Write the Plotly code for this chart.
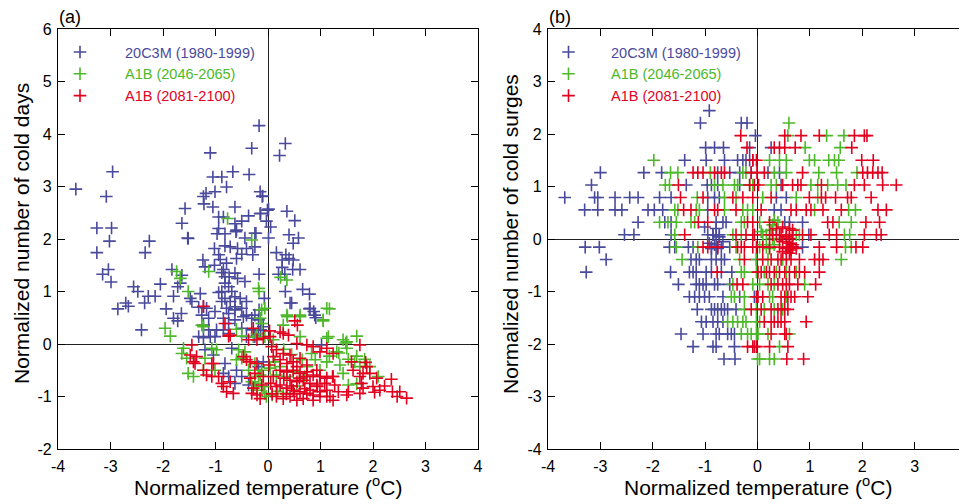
import plotly.graph_objects as go

BLUE = "#4A4A9C"
GREEN = "#4DB82A"
RED = "#E2001F"
NAMES = ["20C3M (1980-1999)", "A1B (2046-2065)", "A1B (2081-2100)"]

# ---------------- Panel (a): cold days vs temperature ----------------
a_blue = [
    (-0.17, 4.16), (-0.31, 3.73), (-1.10, 3.64), (-2.96, 3.28), (-0.67, 3.28), (-0.36, 3.23), (-1.05, 3.18),
    (-0.88, 3.18), (-0.79, 2.99), (-3.66, 2.95), (-3.08, 2.81), (-1.18, 2.87), (-1.23, 2.81), (-1.01, 2.90),
    (-1.22, 2.67), (-0.15, 2.90), (-0.11, 2.81), (-1.58, 2.58), (-1.05, 2.61), (-0.63, 2.61), (-0.94, 2.42),
    (-0.85, 2.42), (-0.37, 2.44), (-0.15, 2.48), (-0.50, 2.34), (-0.63, 2.29), (-1.64, 2.30), (-0.01, 2.55),
    (-0.03, 2.34), (-3.26, 2.21), (-2.98, 2.21), (-0.94, 2.20), (-0.97, 2.10), (-0.82, 2.10), (-0.60, 2.17),
    (-0.23, 2.11), (-1.53, 2.02), (-0.44, 2.02),
    (0.33, 3.82), (0.22, 3.59), (-0.10, 2.82), (0.36, 2.53), (0.01, 2.57), (-0.14, 2.49), (0.05, 2.23),
    (0.51, 2.35), (0.40, 2.08), (0.58, 2.02), (0.01, 2.02), (0.48, 1.92), (0.16, 1.74), (0.34, 1.70),
    (0.40, 1.63), (0.48, 1.60), (0.27, 1.60), (0.27, 1.46), (0.47, 1.42), (0.61, 1.42), (0.20, 1.33),
    (0.32, 1.33), (0.33, 1.00), (0.66, 1.04), (0.79, 0.95), (0.45, 0.78), (0.79, 0.67), (0.87, 0.62),
    (0.91, 0.50), (1.02, -0.02), (0.42, 0.78), (0.80, 0.68), (0.89, 0.55),
    (-3.02, 1.96), (-2.26, 1.96), (-1.52, 2.01), (-3.26, 1.74), (-2.34, 1.74), (-0.61, 2.14), (-0.25, 2.11),
    (-1.02, 1.82), (-0.82, 1.87), (-0.72, 1.85), (-0.58, 1.82), (-0.41, 1.82), (-0.25, 1.85), (-0.94, 1.70),
    (-0.91, 1.61), (-0.50, 1.71), (-0.29, 1.70), (-0.60, 1.63), (-1.24, 1.60), (-1.20, 1.47), (-1.02, 1.50),
    (-0.79, 1.54), (-0.85, 1.42), (-0.63, 1.35), (-0.74, 1.28), (-3.15, 1.33), (-3.04, 1.42), (-2.99, 1.18),
    (-1.83, 1.42), (-1.64, 1.31), (-1.67, 1.16), (-1.72, 1.09), (-0.88, 1.36), (-0.82, 1.28), (-0.58, 1.25),
    (-0.44, 1.19), (-0.17, 1.33),
    (-0.82, 1.16), (-0.75, 1.09), (-0.88, 1.00), (-0.69, 1.00), (-0.63, 0.90), (-0.94, 0.98), (-0.82, 0.87),
    (-0.72, 0.81), (-0.63, 0.71), (-0.53, 0.87), (-0.41, 0.81), (-0.88, 0.81), (-0.79, 0.68), (-0.63, 0.65),
    (-0.50, 0.68), (-0.41, 0.55), (-0.75, 0.58),
    (-2.56, 1.09), (-2.48, 1.00), (-2.05, 1.14), (-1.80, 0.91), (-1.48, 0.87), (-1.29, 0.96), (-1.45, 0.81),
    (-2.28, 0.91), (-2.15, 0.91), (-2.71, 0.78), (-2.66, 0.72), (-2.35, 0.78), (-2.86, 0.67), (-1.94, 0.67),
    (-1.65, 0.58), (-1.80, 0.49), (-1.72, 0.44), (-2.41, 0.27),
    (-1.32, 0.70), (-1.23, 0.71), (-1.17, 0.68), (-1.01, 0.62), (-1.13, 0.49), (-1.23, 0.36), (-1.13, 0.27),
    (-0.98, 0.27), (-1.32, 0.14), (-1.23, 0.12), (-1.10, 0.14), (-1.01, 0.14), (-1.26, 0.55),
    (-0.85, 0.49), (-0.75, 0.39), (-0.63, 0.46), (-0.47, 0.52), (-0.31, 0.49), (-0.18, 0.46), (-0.09, 0.33),
    (-0.50, 0.30), (-0.31, 0.27), (-0.18, 0.27), (-0.85, 0.27), (-0.75, 0.20), (-0.41, 0.14), (-0.25, 0.14),
    (-0.07, 0.87), (-0.17, 0.65), (-0.25, 0.55), (-0.14, 0.27),
    (-1.04, -0.21), (-0.82, -0.37), (-0.75, -0.62), (-0.63, -0.75), (-0.85, -0.56), (-0.60, -0.50),
    (-0.50, -0.62), (-0.37, -0.78), (-0.18, -0.43), (-0.09, -0.34), (-0.69, -0.08), (-1.20, -0.11),
]

a_green = [
    (-0.77, 2.39), (0.24, 1.27), (0.36, 1.22), (1.17, 0.67), (1.05, 0.44), (0.37, 0.52), (0.61, 0.52),
    (1.69, 0.15), (1.12, 0.11), (1.15, 0.14), (1.43, 0.08), (1.48, 0.02), (1.50, -0.08), (1.17, -0.23),
    (1.35, -0.17), (1.37, -0.40), (1.53, -0.29), (1.69, -0.23), (1.65, -0.34), (1.84, -0.29), (1.75, -0.43),
    (1.94, -0.43), (1.53, -0.78), (1.69, -0.76), (2.10, -0.62),
    (-1.74, 1.38), (-1.67, 1.25), (-1.13, 1.38), (-1.96, 0.30), (-1.86, 0.15), (-1.52, 1.00), (-1.26, 0.36),
    (-1.23, 0.33), (-0.60, 0.28), (-0.50, 0.15), (-0.28, 0.14), (-0.18, 1.06), (-0.17, 1.00), (-0.31, 1.98),
    (-0.12, 0.65), (-0.06, 0.68), (-0.15, 0.49), (-0.12, 0.39), (-0.21, 0.19), (-0.06, 0.14),
    (-1.61, -0.08), (-1.64, -0.18), (-1.55, -0.27), (-1.52, -0.56), (-1.42, -0.62), (-1.20, -0.27),
    (-1.07, -0.08), (-0.98, -0.11), (-1.01, -0.50), (-1.23, -0.50),
    (-0.56, -0.11), (-0.44, -0.15), (-0.50, -0.27), (-0.25, -0.37), (-0.12, -0.50), (-0.25, -0.75),
    (-0.12, -0.81), (-0.06, -0.94), (-0.37, -0.50), (-0.18, -0.62), (-0.60, -0.30),
    (1.12, 0.68), (1.05, 0.46), (0.36, 0.55), (0.61, 0.55), (1.31, -0.15), (1.50, 0.04), (1.12, -0.34),
    (0.99, -0.50), (0.83, -0.18), (1.43, -0.56),
    (-0.15, -0.59), (-0.09, -0.81), (-0.03, -1.00), (-0.21, -0.88), (-0.31, -0.72), (0.13, -0.34),
    (0.04, -0.46), (0.23, -0.43), (0.16, -0.59), (0.36, -0.62), (0.48, -0.53), (0.74, -0.43), (0.70, -0.62),
    (0.29, -0.94), (0.08, -0.97), (0.18, -0.90), (0.55, -0.80), (0.65, -0.30), (0.90, -0.30), (0.45, -0.20),
    (0.30, -0.10), (0.10, 0.08), (0.29, 0.36), (0.61, 0.14),
]

a_red = [
    (0.51, 0.44), (0.56, 0.36), (1.75, -0.02), (1.59, -0.34), (1.86, -0.35), (1.88, -0.43), (1.81, -0.56),
    (1.94, -0.56), (2.07, -0.65), (2.35, -0.67), (2.22, -0.80), (2.37, -0.91), (2.64, -1.03), (2.46, -1.00),
    (2.51, -0.91),
    (1.23, -0.62), (1.27, -0.78), (1.18, -1.00), (1.34, -0.91), (1.53, -0.91), (1.50, -0.97), (1.78, -0.75),
    (1.81, -0.84), (2.00, -0.81), (2.03, -0.92), (2.13, -0.88), (1.62, -0.50), (1.75, -0.62), (1.75, -0.94),
    (0.93, -0.50), (0.99, -0.62), (1.08, -0.75), (1.12, -0.88), (0.94, -0.81), (0.74, -0.62), (0.80, -0.88),
    (0.99, -1.00),
    (-1.23, 0.72), (-0.82, 0.39), (-0.75, 0.15), (-0.28, 0.30), (-0.37, 0.08), (-0.21, 0.08), (-0.09, 0.11),
    (-1.45, -0.02), (-1.48, -0.21), (-1.36, -0.24), (-1.39, -0.37), (-1.23, -0.50), (-1.07, -0.37),
    (-1.17, -0.59), (-1.07, -0.62), (-0.94, -0.62), (-0.85, -0.81), (-0.66, -0.94), (-0.79, -0.91),
    (-0.47, -0.24), (-0.34, -0.34), (-0.21, -0.37), (-0.25, -0.56), (-0.09, -0.62), (-0.31, -0.94),
    (-0.21, -0.97), (-0.12, -0.78), (-0.88, -0.75),
    (0.23, 0.23), (0.29, 0.20), (0.39, 0.17), (0.04, 0.14), (0.55, 0.01), (0.74, -0.02), (0.86, -0.05),
    (0.99, -0.15), (1.12, -0.08), (1.24, -0.18),
    (0.16, -0.11), (0.29, -0.18), (0.42, -0.21), (0.10, -0.24), (0.23, -0.30), (0.36, -0.37), (0.48, -0.34),
    (0.61, -0.27), (0.74, -0.40), (0.55, -0.43),
    (0.23, -0.50), (0.36, -0.53), (0.48, -0.50), (0.61, -0.56), (0.74, -0.53), (0.86, -0.59), (0.99, -0.62),
    (1.12, -0.65), (1.24, -0.62), (0.42, -0.69), (0.55, -0.72), (0.67, -0.69), (0.80, -0.75), (0.93, -0.78),
    (0.23, -0.78), (0.36, -0.84), (0.48, -0.88), (0.61, -0.91), (0.74, -0.94), (0.86, -0.97), (0.99, -0.91),
    (0.16, -1.00), (0.29, -1.04), (0.42, -1.00), (0.55, -1.07), (0.67, -1.04), (0.86, -1.07), (1.12, -1.00),
    (1.24, -1.07), (0.10, -0.62), (0.16, -0.81),
    (-1.42, -0.34), (-1.04, -0.37), (-0.72, -0.72), (-0.34, -0.65), (-0.28, -0.84), (-0.15, -1.04),
    (-0.41, -0.30), (-0.72, 0.17), (0.03, 0.25), (0.07, -0.05), (0.02, -0.40), (0.05, -0.75), (0.08, -0.95),
    (0.30, -0.65), (0.45, -0.80), (0.60, -0.65), (0.70, -0.85), (0.50, -0.95), (0.35, -0.95),
]

# ---------------- Panel (b): cold surges vs temperature ----------------
# rows: (normalized number of cold surges, [normalized temperatures])
b_blue_rows = [
    (2.445, [-0.92]),
    (2.21, [-1.09, -0.31, -0.20]),
    (1.97, [-0.04]),
    (1.74, [-0.99, -0.82, -0.65, -0.15, 0.26]),
    (1.50, [-1.39, -0.98, -0.63, -0.38, -0.28, -0.22, -0.15, -0.09]),
    (1.265, [-3.00, -2.17, -1.83, -0.76, -0.53, -0.34, -0.12, 0.20, 0.42]),
    (1.03, [-3.17, -1.36, -0.96, -0.88, -0.76, -0.34, 0.45]),
    (0.79, [-3.68, -3.11, -3.05, -2.72, -2.44, -2.28, -1.87, -1.65, -0.95, -0.82, -0.73, 0.36, 0.55]),
    (0.555, [-3.30, -3.05, -2.72, -2.59, -2.09, -1.97, -1.81, -0.95, 0.32, 0.45]),
    (0.32, [-2.28, -1.77, -1.65, -0.79, -0.66, -0.60, 0.52, 0.61, 0.86]),
    (0.08, [-2.54, -2.36, -1.65, -0.95, -0.85, -0.79, -0.73, 0.98]),
    (-0.155, [-3.29, -3.02, -1.68, -1.58, -1.32, -1.23, -0.88, -0.79, -0.69, -0.53, 0.86]),
    (-0.39, [-2.89, -1.27, -1.17, -1.11, -0.88, -0.79, -0.69, -0.63, -0.02]),
    (-0.63, [-3.27, -1.66, -1.30, -1.23, -1.17, -0.98, -0.88, -0.69, -0.49]),
    (-0.865, [-1.51, -1.17, -1.11, -1.04, -0.98, -0.82, -0.76, -0.53]),
    (-1.10, [-1.30, -1.20, -1.11, -1.01, -0.92, -0.66, -0.34, -0.06]),
    (-1.34, [-1.15, -0.88, -0.82, -0.76, -0.69, -0.63, -0.57, -0.41]),
    (-1.575, [-1.07, -0.98, -0.85, -0.76, -0.66]),
    (-1.81, [-1.46, -1.04, -0.79, -0.73, -0.57, -0.50, -0.44]),
    (-2.05, [-1.23, -0.85, -0.79, -0.44]),
    (-2.285, [-0.64, -0.43]),
]
b_blue_extra = [(-1.01, 0.23), (-0.79, 0.20), (-0.85, 0.08), (-0.73, 0.04), (-0.92, -0.08), (-0.82, -0.11),
                (-0.66, -0.05), (-0.76, -0.18), (-0.88, -0.18)]

b_green_rows = [
    (2.21, [0.60]),
    (1.97, [0.58, 1.32, 1.65]),
    (1.74, [0.91, 1.58]),
    (1.50, [-1.98, 0.23, 0.42, 0.55, 0.99, 1.09, 1.36, 1.47, 1.55]),
    (1.265, [-1.66, -1.52, -0.90, -0.28, -0.22, 0.32, 0.55, 1.17, 1.51, 1.90]),
    (1.03, [-1.76, -1.68, -0.82, -0.66, -0.44, -0.38, -0.15, -0.09, 0.26, 0.36, 1.02, 1.15, 1.34, 1.53, 1.69]),
    (0.79, [-1.15, -0.63, -0.41, 0.10, 0.74, 1.15]),
    (0.555, [-1.58, -1.52, -1.17, -1.11, -0.63, -0.28, -0.19, -0.09, 1.09, 1.74, 1.87]),
    (0.32, [-1.87, -1.71, -1.55, -1.27, -1.20, -0.31, -0.25, 0.04, 0.39, 1.56, 1.79]),
    (0.08, [-1.58, -0.47, -0.31, 0.10, 0.74, 0.80, 1.66, 1.76]),
    (-0.155, [-1.55, -1.14, -0.41, 0.04, 0.17, 1.68, 1.79]),
    (-0.39, [-1.44, -0.34, -0.02, 0.20, 0.48, 1.60]),
    (-0.63, [-0.31, -0.25, -0.02, 0.13, 0.36, 0.55, 0.74]),
    (-0.865, [-0.47, -0.09, 0.04, 0.20, 0.32, 0.90]),
    (-1.10, [-0.50, -0.44, -0.25, 0.23, 0.29, 0.55]),
    (-1.34, [-0.25, -0.02, 0.13, 0.32, 0.48]),
    (-1.575, [-0.57, -0.47, -0.38, -0.28, -0.22, -0.02, 0.04]),
    (-1.81, [-0.31, -0.19, -0.12, -0.02, 0.01, 0.20, 0.61]),
    (-2.05, [0.42]),
    (-2.285, [0.00, 0.04, 0.23, 0.32]),
]
b_green_extra = [(0.07, 0.14), (0.17, 0.08), (0.26, 0.17), (0.10, -0.11), (0.23, -0.18), (0.32, -0.11),
                 (0.29, 0.01), (0.32, 0.36), (0.29, 0.27)]

b_red_rows = [
    (1.97, [-0.32, 0.52, 0.83, 1.18, 1.85, 2.04, 2.09]),
    (1.74, [-0.20, 0.32, 0.42, 0.52, 0.72, 1.80]),
    (1.50, [-0.09, -0.02, 1.99, 2.21]),
    (1.265, [-1.23, -1.14, -1.04, -0.82, -0.69, -0.63, -0.12, -0.01, 0.13, 0.86, 2.01, 2.10, 2.20, 2.30, 2.38]),
    (1.03, [-1.51, -0.15, -0.06, 0.02, 0.48, 0.67, 0.77, 0.83, 1.22, 1.85, 2.04, 2.39, 2.65]),
    (0.79, [-1.47, -1.04, -0.47, -0.28, -0.09, 0.26, 0.99, 1.22, 1.30, 1.49, 1.72, 1.79, 2.17]),
    (0.555, [-1.41, -1.27, -0.82, -0.76, -0.41, 0.07, 0.64, 0.74, 0.93, 1.02, 1.25, 1.60, 2.30, 2.46]),
    (0.32, [-1.13, -0.95, -0.19, -0.09, 0.23, 1.34, 1.44, 2.07, 2.33]),
    (0.08, [-1.39, -0.41, -0.22, -0.09, -0.06, 0.23, 0.29, 0.36, 0.45, 0.55, 0.67, 0.86, 1.02, 1.37, 1.51,
            2.04, 2.27, 2.36]),
    (-0.155, [-1.04, -0.95, -0.76, -0.38, -0.31, -0.25, -0.09, -0.02, 0.10, 0.23, 0.42, 0.58, 0.64, 0.67,
              1.18, 1.51, 1.88, 2.01]),
    (-0.39, [-0.25, 0.10, 0.26, 0.39, 0.45, 0.55, 0.64, 0.80, 1.09, 1.18, 1.25]),
    (-0.63, [-0.77, 0.01, 0.07, 0.17, 0.23, 0.32, 0.42, 0.52, 0.61, 0.71, 0.80, 0.90, 1.18]),
    (-0.865, [-0.39, -0.28, 0.26, 0.39, 0.48, 0.55, 0.61, 0.77, 1.11]),
    (-1.10, [-0.02, 0.01, 0.10, 0.45, 0.52, 0.58, 0.64, 0.71, 0.96]),
    (-1.34, [-0.12, 0.07, 0.26, 0.39, 0.45, 0.52, 0.58]),
    (-1.575, [0.13, 0.26, 0.32, 0.39, 0.45, 0.52, 0.93]),
    (-1.81, [0.26, 0.52, 0.55]),
    (-2.05, [-0.19, -0.09, -0.06, -0.02, 0.23, 0.58]),
    (-2.285, [0.56, 0.88]),
]
b_red_extra = [(0.36, 0.20), (0.48, 0.23), (0.61, 0.20), (0.67, 0.17), (0.42, 0.08), (0.55, 0.04), (0.61, 0.01),
               (0.67, 0.08), (0.48, -0.05), (0.61, -0.08), (0.67, -0.11), (0.55, -0.18), (0.64, -0.21),
               (0.74, -0.18), (0.48, -0.24), (0.61, -0.27)]

A_XTICKS = [-4, -3, -2, -1, 0, 1, 2, 3, 4]
A_YTICKS = [-2, -1, 0, 1, 2, 3, 4, 5, 6]
B_YTICKS = [-4, -3, -2, -1, 0, 1, 2, 3, 4]


def flat_rows(rows, extra):
    xs, ys = [], []
    for yv, xl in rows:
        for xv in xl:
            xs.append(xv)
            ys.append(yv)
    for xv, yv in extra:
        xs.append(xv)
        ys.append(yv)
    return xs, ys


FONT = "Liberation Sans, Arial, sans-serif"
fig = go.Figure()


def label(name, color):
    return "<span style='color:%s'>%s</span>" % (color, name)


def add(xs, ys, color, name, xa, ya, leg):
    fig.add_trace(go.Scatter(
        x=xs, y=ys, mode="markers", xaxis=xa, yaxis=ya, legend=leg,
        name=label(name, color),
        marker=dict(symbol="cross-thin", size=9, color=color, line=dict(width=1.6, color=color)),
        hoverinfo="x+y",
    ))


for pts, col, nm in [(a_blue, BLUE, NAMES[0]), (a_green, GREEN, NAMES[1]), (a_red, RED, NAMES[2])]:
    add([p[0] for p in pts], [p[1] for p in pts], col, nm, "x", "y", "legend")

for rows, extra, col, nm in [(b_blue_rows, b_blue_extra, BLUE, NAMES[0]),
                             (b_green_rows, b_green_extra, GREEN, NAMES[1]),
                             (b_red_rows, b_red_extra, RED, NAMES[2])]:
    xs, ys = flat_rows(rows, extra)
    add(xs, ys, col, nm, "x2", "y2", "legend2")

# the page body adds an 8 px offset, so the figure is 8 px smaller and positions are shifted by -8
OFF = 8
W, H = 967 - OFF, 504 - OFF


def px(x):
    return (x - OFF) / W


def py(y):
    return 1 - (y - OFF) / H


ax_common = dict(
    showline=True, linecolor="black", linewidth=1.3, mirror="ticks", ticks="inside", ticklen=7,
    tickwidth=1.3, tickcolor="black", showgrid=False, zeroline=True, zerolinecolor="#222",
    zerolinewidth=1.4, tickfont=dict(family=FONT, size=16, color="black"), automargin=False,
)
ydom = [py(449), py(29)]
TFONT = dict(family=FONT, size=21, color="black")
XTITLE = "Normalized temperature (<sup>o</sup>C)"

fig.update_layout(
    width=W, height=H, margin=dict(l=0, r=0, t=0, b=0, autoexpand=False),
    paper_bgcolor="white", plot_bgcolor="white",
    font=dict(family=FONT, color="black"),
    xaxis=dict(ax_common, domain=[px(58), px(478)], range=[-4, 4], tickvals=A_XTICKS,
               ticktext=[str(v) for v in A_XTICKS], anchor="y", ticklabelstandoff=3),
    yaxis=dict(ax_common, domain=ydom, range=[-2, 6], tickvals=A_YTICKS,
               ticktext=[str(v) for v in A_YTICKS], anchor="x", ticklabelstandoff=2),
    xaxis2=dict(ax_common, domain=[px(548), 1.0], range=[-4, 4], tickvals=A_XTICKS,
                ticktext=[str(v) for v in A_XTICKS], anchor="y2", ticklabelstandoff=3),
    yaxis2=dict(ax_common, domain=ydom, range=[-4, 4], tickvals=B_YTICKS,
                ticktext=[str(v) for v in B_YTICKS], anchor="x2", ticklabelstandoff=2),
    legend=dict(x=px(35), y=py(36), xanchor="left", yanchor="top", bgcolor="rgba(0,0,0,0)",
                font=dict(family=FONT, size=14.5), itemwidth=80, tracegroupgap=0),
    legend2=dict(x=px(526), y=py(36), xanchor="left", yanchor="top", bgcolor="rgba(0,0,0,0)",
                 font=dict(family=FONT, size=14.5), itemwidth=75, tracegroupgap=0),
    showlegend=True,
    annotations=[
        dict(text="(a)", x=px(57), y=py(17), xref="paper", yref="paper", xanchor="left", yanchor="middle",
             showarrow=False, font=dict(family=FONT, size=18, color="black")),
        dict(text="(b)", x=px(547), y=py(17), xref="paper", yref="paper", xanchor="left", yanchor="middle",
             showarrow=False, font=dict(family=FONT, size=18, color="black")),
        dict(text=XTITLE, x=px(268), y=py(486), xref="paper", yref="paper", xanchor="center",
             yanchor="middle", showarrow=False, font=TFONT),
        dict(text=XTITLE, x=px(758), y=py(486), xref="paper", yref="paper", xanchor="center",
             yanchor="middle", showarrow=False, font=TFONT),
        dict(text="Normalized number of cold days", x=px(22), y=py(234), xref="paper", yref="paper",
             xanchor="center", yanchor="middle", textangle=-90, showarrow=False, font=TFONT),
        dict(text="Normalized number of cold surges", x=px(511), y=py(234), xref="paper", yref="paper",
             xanchor="center", yanchor="middle", textangle=-90, showarrow=False, font=TFONT),
    ],
)

fig.write_html("out.html")
